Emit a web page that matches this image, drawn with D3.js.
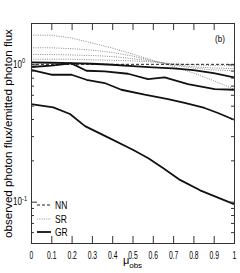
<!DOCTYPE html>
<html><head><meta charset="utf-8">
<script src="https://cdn.jsdelivr.net/npm/d3@7"></script>
<style>body{margin:0;background:#fff}svg{display:block}text{font-family:"Liberation Sans",Arial,sans-serif;fill:#000}</style>
</head><body><div id="c"></div>
<script>
// ---- data ----
const xTicks = [0,0.1,0.2,0.3,0.4,0.5,0.6,0.7,0.8,0.9,1];
const xTickLabels = ["0","0.1","0.2","0.3","0.4","0.5","0.6","0.7","0.8","0.9","1"];
const yMajor = [0.1, 1];
const yMajorLabels = [["10","-1"],["10","0"]];
const yMinor = [0.06,0.07,0.08,0.09,0.2,0.3,0.4,0.5,0.6,0.7,0.8,0.9];
const legendLabels = ["NN","SR","GR"];

const nnX = [0, 1];
const nnY = [1.0, 1.0];

const srX = [0,0.1,0.2,0.3,0.4,0.5,0.6,0.7,0.8,0.9,1];
const sr1 = [1.63,1.63,1.555,1.43,1.314,1.189,1.069,0.967,0.864,0.760,0.661];
const sr2 = [1.32,1.32,1.30,1.27,1.22,1.15,1.06,0.99,0.94,0.91,0.90];
const sr3 = [1.18,1.18,1.17,1.16,1.14,1.10,1.05,1.00,0.96,0.94,0.93];
const sr4 = [1.09,1.09,1.09,1.08,1.07,1.06,1.04,1.01,0.99,0.98,0.975];

const gr1X = [0,0.1,0.2,0.3,0.4,0.5,0.6,0.7,0.8,0.9,1];
const gr1 = [1.034,1.027,1.022,1.010,0.993,0.972,0.951,0.935,0.909,0.864,0.804];
const gr2X = [0,0.1,0.199,0.273,0.363,0.478,0.576,0.658,0.773,0.905,1];
const gr2 = [0.956,0.977,1.017,0.898,0.889,0.854,0.781,0.804,0.719,0.661,0.653];
const gr3X = [0,0.1,0.2,0.273,0.363,0.445,0.56,0.675,0.757,0.855,0.921,1];
const gr3 = [0.913,0.840,0.840,0.772,0.731,0.653,0.601,0.559,0.523,0.481,0.442,0.395];
const gr4X = [0,0.11,0.192,0.266,0.389,0.504,0.578,0.652,0.734,0.833,0.915,1];
const gr4 = [0.514,0.486,0.435,0.355,0.289,0.238,0.207,0.175,0.144,0.121,0.108,0.0959];

// ---- layout ----
const W = 240, H = 273;
const L = 31, R = 234, T = 23, B = 243;
const svg = d3.select("#c").append("svg").attr("width", W).attr("height", H);
const x = d3.scaleLinear().domain([0,1]).range([L,R]);
const y = d3.scaleLog().domain([0.05,2]).range([B,T]);

const line = d3.line().x(d => x(d[0])).y(d => y(d[1]));
const zip = (a,b) => a.map((v,i)=>[v,b[i]]);

const plot = svg.append("g");
// SR dotted
[sr1,sr2,sr3,sr4].forEach(s => {
  plot.append("path").attr("d", line(zip(srX,s))).attr("fill","none")
    .attr("stroke","#8a8a8a").attr("stroke-width",1).attr("stroke-dasharray","1,1.3");
});
// NN dashed
plot.append("path").attr("d", line(zip(nnX,nnY))).attr("fill","none")
  .attr("stroke","#222").attr("stroke-width",1).attr("stroke-dasharray","3,2");
// GR solid
[[gr1X,gr1],[gr2X,gr2],[gr3X,gr3],[gr4X,gr4]].forEach(([xs,s]) => {
  plot.append("path").attr("d", line(zip(xs,s))).attr("fill","none")
    .attr("stroke","#111").attr("stroke-width",1.8).attr("stroke-linejoin","round");
});

// ---- axes ----
const axCol = "#333";
function styleAxis(g){ g.selectAll("path,line").attr("stroke",axCol).attr("stroke-width",1); }
svg.append("g").attr("transform",`translate(0,${B})`)
  .call(d3.axisBottom(x).tickValues(xTicks).tickSize(-7).tickPadding(9).tickFormat((d,i)=>xTickLabels[i]))
  .call(styleAxis)
  .call(g => g.selectAll("text").attr("font-size",10).attr("font-family","Liberation Sans, Arial, sans-serif").attr("fill","#000").attr("transform","scale(0.68,1)"));
svg.append("g").attr("transform",`translate(0,${T})`)
  .call(d3.axisTop(x).tickValues(xTicks).tickSize(-7).tickFormat(""))
  .call(styleAxis);
svg.append("g").attr("transform",`translate(${L},0)`)
  .call(d3.axisLeft(y).tickValues(yMajor).tickSize(-6).tickFormat(""))
  .call(styleAxis);
svg.append("g").attr("transform",`translate(${L},0)`)
  .call(d3.axisLeft(y).tickValues(yMinor).tickSize(-3).tickFormat(""))
  .call(styleAxis);
svg.append("g").attr("transform",`translate(${R},0)`)
  .call(d3.axisRight(y).tickValues(yMajor).tickSize(-6).tickFormat(""))
  .call(styleAxis);
svg.append("g").attr("transform",`translate(${R},0)`)
  .call(d3.axisRight(y).tickValues(yMinor).tickSize(-3).tickFormat(""))
  .call(styleAxis);

// y major labels
yMajor.forEach((v,i) => {
  const t = svg.append("text").attr("transform",`translate(${i===0?27:25},${y(v)+3.5}) scale(0.8,1)`)
    .attr("text-anchor","end").attr("font-size",10);
  t.append("tspan").text(yMajorLabels[i][0]);
  t.append("tspan").attr("font-size",7).attr("dy",-4.5).text(yMajorLabels[i][1]);
});
// x label
const xl = svg.append("text").attr("x",(L+R)/2).attr("y",264).attr("text-anchor","middle").attr("font-size",11);
xl.append("tspan").text("μ");
xl.append("tspan").attr("font-size",8).attr("dy",4).text("obs");
// y label
svg.append("text").attr("transform",`translate(12,133.5) rotate(-90)`).attr("text-anchor","middle")
  .attr("font-size",11.6).text("observed photon flux/emitted photon flux");
// panel label
svg.append("text").attr("transform","translate(220,42) scale(0.85,1)").attr("text-anchor","middle")
  .attr("font-size",9.5).text("(b)");

// legend
const legY = [205,219,232];
const legStyles = [
  {c:"#222",w:1,d:"3,2"},
  {c:"#8a8a8a",w:1,d:"1,1.3"},
  {c:"#111",w:1.8,d:null}
];
legendLabels.forEach((lab,i) => {
  const ln = svg.append("line").attr("x1",37).attr("x2",51).attr("y1",legY[i]).attr("y2",legY[i])
    .attr("stroke",legStyles[i].c).attr("stroke-width",legStyles[i].w);
  if (legStyles[i].d) ln.attr("stroke-dasharray",legStyles[i].d);
  svg.append("text").attr("transform",`translate(55,${legY[i]+3.5}) scale(0.85,1)`)
    .attr("font-size",10).text(lab);
});
</script></body></html>
